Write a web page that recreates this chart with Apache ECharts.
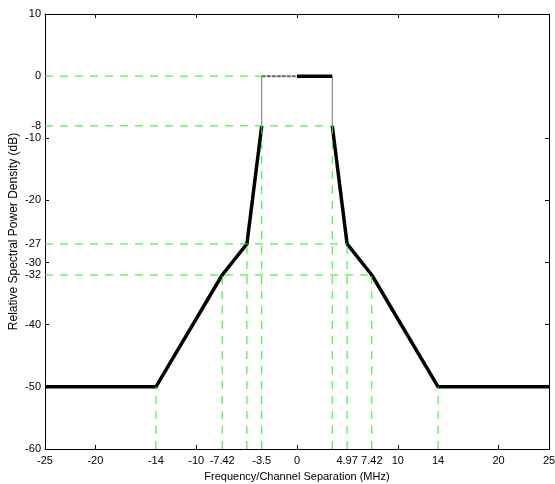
<!DOCTYPE html>
<html><head><meta charset="utf-8">
<script src="https://cdn.jsdelivr.net/npm/echarts@6/dist/echarts.min.js"></script>
<style>html,body{margin:0;padding:0;background:#fff}#c{width:555px;height:484px}</style>
</head><body><div id="c"></div>
<script>
// Spectral mask vertices
const freq = [-25, -14, -7.42, -4.97, -3.5, -3.5, 0, 3.5, 3.5, 4.97, 7.42, 14, 25];
const psd  = [-50, -50, -32, -27, -8, 0, 0, 0, -8, -27, -32, -50, -50];
// Axis tick labels
const xTickLabels = [-25, -20, -14, -10, -7.42, -3.5, 0, 4.97, 7.42, 10, 14, 20, 25];
const xTickMarks = [-20, -10, 0, 10, 20];
const yTickLabels = [10, 0, -8, -10, -20, -27, -30, -32, -40, -50, -60];
const yTickMarks = [-10, -20, -30, -40, -50];
// Guide lines
const hGuideLevels = [0, -8, -27, -32];
const hGuideEnds = [-3.5, 3.5, 4.97, 7.42];
const vGuideFreqs = [-14, -7.42, -4.97, -3.5, 3.5, 4.97, 7.42, 14];
const vGuideLevels = [-50, -32, -27, -8, -8, -27, -32, -50];

const XMIN = -25, XMAX = 25, YMIN = -60, YMAX = 10;
const pts = freq.map((f, i) => [f, psd[i]]);
const FONT = 'Liberation Sans, Arial, sans-serif';

function seg(a, b, style) {
  return {type: 'line', data: pts.slice(a, b + 1), symbol: 'none', animation: false,
    lineStyle: style, z: 5, silent: true};
}
const thick = {color: '#000', width: 3.5, join: 'round'};
const thinGrey = {color: '#777', width: 1};
const series = [
  seg(0, 4, thick),
  seg(4, 5, thinGrey),
  seg(5, 6, {color: '#666', width: 2, type: [4, 1]}),
  seg(6, 7, thick),
  seg(7, 8, thinGrey),
  seg(8, 12, thick)
];
const green = {color: '#22ee22', width: 1, type: [8, 7]};
hGuideLevels.forEach((lv, i) => {
  series.push({type: 'line', data: [[XMIN, lv], [hGuideEnds[i], lv]], symbol: 'none',
    animation: false, lineStyle: green, z: 6, silent: true});
});
vGuideFreqs.forEach((f, i) => {
  series.push({type: 'line', data: [[f, YMIN], [f, vGuideLevels[i]]], symbol: 'none',
    animation: false, lineStyle: green, z: 6, silent: true});
});

const axLine = {show: true, onZero: false, lineStyle: {color: '#000', width: 1}};
const tickStyle = {lineStyle: {color: '#000', width: 1}};
const chart = echarts.init(document.getElementById('c'), null, {renderer: 'canvas'});
chart.setOption({
  animation: false,
  grid: {left: 45, right: 6, top: 14, bottom: 35, show: false, containLabel: false, outerBoundsMode: 'none'},
  xAxis: [{
    type: 'value', min: XMIN, max: XMAX, position: 'bottom',
    axisLine: axLine,
    axisTick: {show: true, inside: true, length: 4, customValues: xTickMarks, ...tickStyle},
    axisLabel: {show: true, customValues: xTickLabels, color: '#000', fontSize: 11, fontFamily: FONT,
      margin: 6, hideOverlap: false, showMinLabel: true, showMaxLabel: true},
    splitLine: {show: false},
    name: 'Frequency/Channel Separation (MHz)', nameLocation: 'middle', nameGap: 22,
    nameTextStyle: {color: '#000', fontSize: 11, fontFamily: FONT}
  }, {
    type: 'value', min: XMIN, max: XMAX, position: 'top',
    axisLine: axLine,
    axisTick: {show: true, inside: true, length: 4, customValues: xTickMarks, ...tickStyle},
    axisLabel: {show: false}, splitLine: {show: false}
  }],
  yAxis: [{
    type: 'value', min: YMIN, max: YMAX, position: 'left',
    axisLine: axLine,
    axisTick: {show: true, inside: true, length: 4, customValues: yTickMarks, ...tickStyle},
    axisLabel: {show: true, customValues: yTickLabels, color: '#000', fontSize: 11, fontFamily: FONT,
      margin: 4, hideOverlap: false, showMinLabel: true, showMaxLabel: true},
    splitLine: {show: false},
    name: 'Relative Spectral Power Density (dB)', nameLocation: 'middle', nameGap: 25, nameRotate: 90,
    nameMoveOverlap: false,
    nameTextStyle: {color: '#000', fontSize: 12, fontFamily: FONT}
  }, {
    type: 'value', min: YMIN, max: YMAX, position: 'right',
    axisLine: axLine,
    axisTick: {show: true, inside: true, length: 4, customValues: yTickMarks, ...tickStyle},
    axisLabel: {show: false}, splitLine: {show: false}
  }],
  series: series
});
</script></body></html>
